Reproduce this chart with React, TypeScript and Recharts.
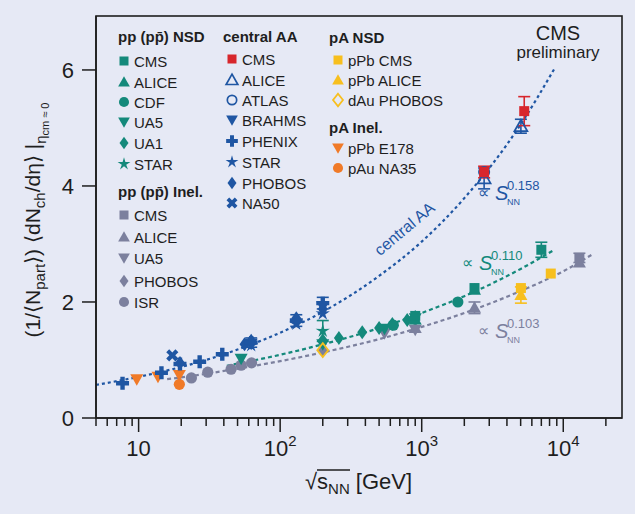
import React from 'react';
import { ComposedChart, Scatter, Line, XAxis, YAxis, ErrorBar } from 'recharts';

const FONT = "'Liberation Sans', Arial, sans-serif";
const NARROW = "'Liberation Sans Narrow', 'Arial Narrow', 'Liberation Sans', Arial, sans-serif";
const BG = '#e6e9f5';
const TEAL = '#14897b';
const BLUE = '#1f56a3';
const RED = '#d7262c';
const GRAY = '#7c809e';
const ORANGE = '#f07a28';
const YELLOW = '#f7bf1e';
const INK = '#1e1e1e';

// ---------- axis ticks ----------
const xMajorTicks = [10, 100, 1000, 10000];
const xTickBase = ['10', '10', '10', '10'];
const xTickSup = ['', '2', '3', '4'];
const xMinorTicks = [5, 6, 7, 8, 9, 20, 30, 40, 50, 60, 70, 80, 90, 200, 300, 400, 500, 600, 700, 800, 900,
  2000, 3000, 4000, 5000, 6000, 7000, 8000, 9000, 20000];
const yTicks = [0, 2, 4, 6];
const yTickLabels = ['0', '2', '4', '6'];

// ---------- pp (pp̄) NSD ----------
const ppNsdCms = [{ x: 900, y: 1.76 }, { x: 2360, y: 2.24 }, { x: 7000, y: 2.9, e: 0.13 }];
const ppNsdAlice = [{ x: 900, y: 1.7 }, { x: 2360, y: 2.21 }];
const ppNsdCdf = [{ x: 630, y: 1.6 }, { x: 1800, y: 2.0 }];
const ppNsdUa5 = [{ x: 53, y: 1.02 }, { x: 200, y: 1.27 }, { x: 546, y: 1.54 }, { x: 900, y: 1.72 }];
const ppNsdUa1 = [{ x: 200, y: 1.34 }, { x: 260, y: 1.38 }, { x: 380, y: 1.48 }, { x: 500, y: 1.55 },
  { x: 620, y: 1.62 }, { x: 790, y: 1.69 }, { x: 900, y: 1.74 }];
const ppNsdStar = [{ x: 200, y: 1.5, e: 0.18 }];

// ---------- pp (pp̄) Inel. ----------
const ppInelCms = [{ x: 13000, y: 2.76, e: 0.08 }];
const ppInelAlice = [{ x: 900, y: 1.55 }, { x: 2360, y: 1.9, e: 0.1 }, { x: 13000, y: 2.68 }];
const ppInelUa5 = [{ x: 546, y: 1.46 }, { x: 900, y: 1.52 }];
const ppInelPhobos = [{ x: 200, y: 1.17 }];
const ppInelIsr = [{ x: 23.6, y: 0.69 }, { x: 30.8, y: 0.79 }, { x: 45, y: 0.84 }, { x: 53, y: 0.91 }, { x: 62.8, y: 0.95 }];

// ---------- central AA ----------
const aaCms = [{ x: 2760, y: 4.24, e: 0.1 }, { x: 5300, y: 5.29, e: 0.25 }];
const aaAlice = [{ x: 2760, y: 4.13, e: 0.18 }, { x: 5020, y: 5.03, e: 0.12 }];
const aaAtlas = [{ x: 2760, y: 4.24 }];
const aaBrahms = [{ x: 62.4, y: 1.28 }, { x: 200, y: 1.92 }];
const aaPhenix = [{ x: 7.7, y: 0.6 }, { x: 14.5, y: 0.78 }, { x: 19.6, y: 0.93 }, { x: 27, y: 0.97 },
  { x: 39, y: 1.1 }, { x: 62.4, y: 1.3, e: 0.08 }, { x: 130, y: 1.68, e: 0.1 }, { x: 200, y: 1.98, e: 0.1 }];
const aaStar = [{ x: 62.4, y: 1.25 }, { x: 130, y: 1.62 }, { x: 200, y: 1.8 }];
const aaPhobos = [{ x: 19.6, y: 0.95 }, { x: 56, y: 1.27 }, { x: 62.4, y: 1.33 }, { x: 130, y: 1.72 }, { x: 200, y: 1.88 }];
const aaNa50 = [{ x: 17.3, y: 1.08 }];

// ---------- pA NSD ----------
const paPbCms = [{ x: 5020, y: 2.24 }, { x: 8160, y: 2.49 }];
const paPbAlice = [{ x: 5020, y: 2.12, e: 0.14 }];
const dAuPhobos = [{ x: 200, y: 1.17 }];

// ---------- pA Inel. ----------
const pPbE178 = [{ x: 9.7, y: 0.67 }, { x: 13.7, y: 0.71 }, { x: 19.4, y: 0.74 }];
const pAuNa35 = [{ x: 19.4, y: 0.58 }];

// ---------- fit curves ----------
const fitAA = [{ x: 5, y: 0.57 }, { x: 10, y: 0.71 }, { x: 20, y: 0.88 }, { x: 50, y: 1.18 }, { x: 100, y: 1.47 },
  { x: 200, y: 1.83 }, { x: 500, y: 2.45 }, { x: 1000, y: 3.04 }, { x: 2000, y: 3.79 }, { x: 5000, y: 5.06 }, { x: 8700, y: 6.03 }];
const fitPPNsd = [{ x: 42, y: 0.9 }, { x: 100, y: 1.09 }, { x: 200, y: 1.27 }, { x: 500, y: 1.55 },
  { x: 1000, y: 1.81 }, { x: 2000, y: 2.1 }, { x: 5000, y: 2.57 }, { x: 8650, y: 2.9 }];
const fitPPInel = [{ x: 15.9, y: 0.67 }, { x: 20, y: 0.7 }, { x: 50, y: 0.85 }, { x: 100, y: 0.98 }, { x: 200, y: 1.13 },
  { x: 500, y: 1.36 }, { x: 1000, y: 1.57 }, { x: 2000, y: 1.81 }, { x: 5000, y: 2.19 }, { x: 10000, y: 2.53 }, { x: 15800, y: 2.81 }];

type Kind = 'square' | 'triUp' | 'triDown' | 'circle' | 'diamond' | 'star' | 'plus' | 'xcross' | 'openTri' | 'openCircle' | 'openDiamond';

type Series = { id: string; group: string; label: string; kind: Kind; color: string; data: any[] };

const SERIES: Series[] = [
  { id: 'ppNsdCms', group: 'ppNSD', label: 'CMS', kind: 'square', color: TEAL, data: ppNsdCms },
  { id: 'ppNsdAlice', group: 'ppNSD', label: 'ALICE', kind: 'triUp', color: TEAL, data: ppNsdAlice },
  { id: 'ppNsdCdf', group: 'ppNSD', label: 'CDF', kind: 'circle', color: TEAL, data: ppNsdCdf },
  { id: 'ppNsdUa5', group: 'ppNSD', label: 'UA5', kind: 'triDown', color: TEAL, data: ppNsdUa5 },
  { id: 'ppNsdUa1', group: 'ppNSD', label: 'UA1', kind: 'diamond', color: TEAL, data: ppNsdUa1 },
  { id: 'ppNsdStar', group: 'ppNSD', label: 'STAR', kind: 'star', color: TEAL, data: ppNsdStar },
  { id: 'ppInelCms', group: 'ppInel', label: 'CMS', kind: 'square', color: GRAY, data: ppInelCms },
  { id: 'ppInelAlice', group: 'ppInel', label: 'ALICE', kind: 'triUp', color: GRAY, data: ppInelAlice },
  { id: 'ppInelUa5', group: 'ppInel', label: 'UA5', kind: 'triDown', color: GRAY, data: ppInelUa5 },
  { id: 'ppInelPhobos', group: 'ppInel', label: 'PHOBOS', kind: 'diamond', color: GRAY, data: ppInelPhobos },
  { id: 'ppInelIsr', group: 'ppInel', label: 'ISR', kind: 'circle', color: GRAY, data: ppInelIsr },
  { id: 'aaCms', group: 'AA', label: 'CMS', kind: 'square', color: RED, data: aaCms },
  { id: 'aaAlice', group: 'AA', label: 'ALICE', kind: 'openTri', color: BLUE, data: aaAlice },
  { id: 'aaAtlas', group: 'AA', label: 'ATLAS', kind: 'openCircle', color: BLUE, data: aaAtlas },
  { id: 'aaBrahms', group: 'AA', label: 'BRAHMS', kind: 'triDown', color: BLUE, data: aaBrahms },
  { id: 'aaPhenix', group: 'AA', label: 'PHENIX', kind: 'plus', color: BLUE, data: aaPhenix },
  { id: 'aaStar', group: 'AA', label: 'STAR', kind: 'star', color: BLUE, data: aaStar },
  { id: 'aaPhobos', group: 'AA', label: 'PHOBOS', kind: 'diamond', color: BLUE, data: aaPhobos },
  { id: 'aaNa50', group: 'AA', label: 'NA50', kind: 'xcross', color: BLUE, data: aaNa50 },
  { id: 'paPbCms', group: 'pANSD', label: 'pPb CMS', kind: 'square', color: YELLOW, data: paPbCms },
  { id: 'paPbAlice', group: 'pANSD', label: 'pPb ALICE', kind: 'triUp', color: YELLOW, data: paPbAlice },
  { id: 'dAuPhobos', group: 'pANSD', label: 'dAu PHOBOS', kind: 'openDiamond', color: YELLOW, data: dAuPhobos },
  { id: 'pPbE178', group: 'pAInel', label: 'pPb E178', kind: 'triDown', color: ORANGE, data: pPbE178 },
  { id: 'pAuNa35', group: 'pAInel', label: 'pAu NA35', kind: 'circle', color: ORANGE, data: pAuNa35 },
];

const DRAW_ORDER = ['ppInelIsr', 'ppInelUa5', 'ppInelAlice', 'ppInelCms', 'ppInelPhobos',
  'ppNsdUa5', 'ppNsdUa1', 'ppNsdCdf', 'ppNsdAlice', 'ppNsdCms', 'ppNsdStar',
  'pPbE178', 'pAuNa35', 'paPbAlice', 'paPbCms', 'dAuPhobos',
  'aaPhobos', 'aaStar', 'aaBrahms', 'aaPhenix', 'aaNa50', 'aaAlice', 'aaAtlas', 'aaCms'];

const pts = (cx: number, cy: number, arr: number[][], k: number) =>
  arr.map(([dx, dy]) => `${cx + dx * k},${cy + dy * k}`).join(' ');

function starPts(cx: number, cy: number, ro: number, ri: number) {
  const out: string[] = [];
  for (let i = 0; i < 10; i++) {
    const r = i % 2 === 0 ? ro : ri;
    const a = -Math.PI / 2 + (i * Math.PI) / 5;
    out.push(`${cx + r * Math.cos(a)},${cy + r * Math.sin(a)}`);
  }
  return out.join(' ');
}

function Marker({ cx, cy, kind, color, k = 1 }: { cx: number; cy: number; kind: Kind; color: string; k?: number }) {
  if (cx == null || cy == null || isNaN(cx) || isNaN(cy)) return null;
  switch (kind) {
    case 'square':
      return <rect x={cx - 5 * k} y={cy - 5 * k} width={10 * k} height={10 * k} fill={color} />;
    case 'triUp':
      return <polygon points={pts(cx, cy, [[0, -6.5], [6.5, 5], [-6.5, 5]], k)} fill={color} />;
    case 'triDown':
      return <polygon points={pts(cx, cy, [[0, 6.5], [6.5, -5], [-6.5, -5]], k)} fill={color} />;
    case 'circle':
      return <circle cx={cx} cy={cy} r={5.6 * k} fill={color} />;
    case 'diamond':
      return <polygon points={pts(cx, cy, [[0, -7], [5, 0], [0, 7], [-5, 0]], k)} fill={color} />;
    case 'star':
      return <polygon points={starPts(cx, cy, 7.5 * k, 2.6 * k)} fill={color} />;
    case 'plus':
      return (
        <path
          d={`M${cx - 2.2 * k},${cy - 6.5 * k}h${4.4 * k}v${4.3 * k}h${4.3 * k}v${4.4 * k}h${-4.3 * k}v${4.3 * k}h${-4.4 * k}v${-4.3 * k}h${-4.3 * k}v${-4.4 * k}h${4.3 * k}z`}
          fill={color}
        />
      );
    case 'xcross':
      return (
        <g transform={`rotate(45 ${cx} ${cy})`}>
          <path
            d={`M${cx - 2.1 * k},${cy - 6.5 * k}h${4.2 * k}v${4.4 * k}h${4.4 * k}v${4.2 * k}h${-4.4 * k}v${4.4 * k}h${-4.2 * k}v${-4.4 * k}h${-4.4 * k}v${-4.2 * k}h${4.4 * k}z`}
            fill={color}
          />
        </g>
      );
    case 'openTri':
      return <polygon points={pts(cx, cy, [[0, -6.5], [6.5, 5], [-6.5, 5]], k)} fill="none" stroke={color} strokeWidth={1.7} />;
    case 'openCircle':
      return <circle cx={cx} cy={cy} r={5.2 * k} fill="none" stroke={color} strokeWidth={1.7} />;
    case 'openDiamond':
      return <polygon points={pts(cx, cy, [[0, -7], [5.5, 0], [0, 7], [-5.5, 0]], k)} fill="none" stroke={color} strokeWidth={1.8} />;
  }
  return null;
}

const XTick = (props: any) => {
  const { x, y, payload } = props;
  const v = payload.value;
  const idx = xMajorTicks.indexOf(v);
  const major = idx >= 0;
  return (
    <g>
      <line x1={x} x2={x} y1={y} y2={y + (major ? 14 : 8)} stroke={INK} strokeWidth={1.5} />
      {major && (
        <text x={x} y={y + 38} textAnchor="middle" fontSize={22} fill={INK} fontFamily={FONT}>
          {xTickBase[idx]}
          {xTickSup[idx] && <tspan dy={-10} fontSize={15}>{xTickSup[idx]}</tspan>}
        </text>
      )}
    </g>
  );
};

const YTick = (props: any) => {
  const { x, y, payload } = props;
  const idx = yTicks.indexOf(payload.value);
  return (
    <g>
      <line x1={x - 14} x2={x} y1={y} y2={y} stroke={INK} strokeWidth={1.5} />
      <text x={x - 22} y={y + 8} textAnchor="end" fontSize={22} fill={INK} fontFamily={FONT}>
        {yTickLabels[idx]}
      </text>
    </g>
  );
};

// legend layout
const LEGEND = [
  { group: 'ppNSD', title: 'pp (pp\u0304) NSD', tx: 118, ty: 42, mx: 124, lx: 134, rows: [61, 82, 102, 122, 143, 164] },
  { group: 'ppInel', title: 'pp (pp\u0304) Inel.', tx: 118, ty: 197, mx: 124, lx: 134, rows: [215, 237, 258, 281, 302] },
  { group: 'AA', title: 'central AA', tx: 223, ty: 42, mx: 232, lx: 242, rows: [59, 80, 100, 120, 141, 162, 183, 203] },
  { group: 'pANSD', title: 'pA NSD', tx: 329, ty: 43, mx: 338, lx: 348, rows: [60, 80, 100] },
  { group: 'pAInel', title: 'pA Inel.', tx: 329, ty: 133, mx: 338, lx: 348, rows: [148, 168] },
];

// power-law annotations
const POWER_LABELS = [
  { exp: '0.158', color: BLUE, x: 478, y: 198 },
  { exp: '0.110', color: TEAL, x: 462, y: 268 },
  { exp: '0.103', color: GRAY, x: 478, y: 336 },
];

function PowerLabel({ exp, color, x, y }: { exp: string; color: string; x: number; y: number }) {
  return (
    <g>
      <text x={x} y={y} fontSize={16} fill={color} fontFamily={FONT}>∝</text>
      <text x={x + 17} y={y + 2} fontSize={20} fontStyle="italic" fill={color} fontFamily={FONT}>S</text>
      <text x={x + 29} y={y + 7} fontSize={9} fill={color} fontFamily={FONT}>NN</text>
      <text x={x + 29} y={y - 8} fontSize={13} fill={color} fontFamily={FONT}>{exp}</text>
    </g>
  );
}

function Overlay() {
  return (
    <svg width={635} height={514} style={{ position: 'absolute', left: 0, top: 0, pointerEvents: 'none' }}>
      <rect x={96} y={16} width={526} height={402} fill="none" stroke={INK} strokeWidth={1.6} />
      {LEGEND.map((g) => {
        const items = SERIES.filter((s) => s.group === g.group);
        return (
          <g key={g.group}>
            <text x={g.tx} y={g.ty} fontSize={15} fontWeight="bold" fill={INK} fontFamily={NARROW}>{g.title}</text>
            {items.map((s, i) => (
              <g key={s.id}>
                <Marker cx={g.mx} cy={g.rows[i]} kind={s.kind} color={s.color} k={0.9} />
                <text x={g.lx} y={g.rows[i] + 5.5} fontSize={15} fill={INK} fontFamily={NARROW}>{s.label}</text>
              </g>
            ))}
          </g>
        );
      })}
      <text x={558} y={40} textAnchor="middle" fontSize={20} fill={INK} fontFamily={FONT}>CMS</text>
      <text x={558} y={58} textAnchor="middle" fontSize={17} fill={INK} fontFamily={FONT}>preliminary</text>

      <text x={0} y={0} transform="translate(408 233) rotate(-40)" textAnchor="middle" fontSize={16} fill={BLUE} fontFamily={FONT}>central AA</text>

      {POWER_LABELS.map((p) => (
        <PowerLabel key={p.exp} {...p} />
      ))}

      {/* x axis title */}
      <text x={305} y={489} fontSize={22} fill={INK} fontFamily={FONT}>
        √s<tspan dy={5} fontSize={15}>NN</tspan><tspan dy={-5}> [GeV]</tspan>
      </text>
      <line x1={317} x2={350} y1={470} y2={470} stroke={INK} strokeWidth={1.3} />

      {/* y axis title */}
      <text transform="translate(40 220) rotate(-90)" textAnchor="middle" fontSize={21} fill={INK} fontFamily={FONT}>
        (1/⟨N<tspan dy={5} fontSize={15}>part</tspan><tspan dy={-5}>⟩) ⟨dN</tspan><tspan dy={5} fontSize={15}>ch</tspan>
        <tspan dy={-5}>/dη⟩ |</tspan><tspan dy={6} fontSize={15}>η</tspan><tspan dy={3} fontSize={11}>cm ≈ 0</tspan>
      </text>
    </svg>
  );
}

export default function App() {
  const xTicks = [...xMajorTicks, ...xMinorTicks].sort((a, b) => a - b);
  const byId: Record<string, Series> = {};
  SERIES.forEach((s) => (byId[s.id] = s));
  return (
    <div style={{ position: 'absolute', left: 0, top: 0, width: 635, height: 514, background: BG, fontFamily: FONT }}>
      <ComposedChart width={635} height={514} margin={{ top: 16, right: 13, left: 0, bottom: 0 }}>
        <XAxis
          dataKey="x"
          type="number"
          scale="log"
          domain={[5, 26000]}
          allowDataOverflow
          ticks={xTicks}
          interval={0}
          tick={(p: any) => <XTick {...p} />}
          tickSize={0}
          tickMargin={0}
          tickLine={false}
          axisLine={{ stroke: INK, strokeWidth: 1.6 }}
          height={96}
        />
        <YAxis
          dataKey="y"
          type="number"
          domain={[0, 6.93]}
          allowDataOverflow
          ticks={yTicks}
          interval={0}
          tick={(p: any) => <YTick {...p} />}
          tickSize={0}
          tickMargin={0}
          tickLine={false}
          axisLine={{ stroke: INK, strokeWidth: 1.6 }}
          width={96}
        />
        <Line data={fitPPInel} dataKey="y" type="monotone" stroke={GRAY} strokeWidth={2.2} strokeDasharray="4 3" dot={false} isAnimationActive={false} />
        <Line data={fitPPNsd} dataKey="y" type="monotone" stroke={TEAL} strokeWidth={2.2} strokeDasharray="4 3" dot={false} isAnimationActive={false} />
        <Line data={fitAA} dataKey="y" type="monotone" stroke={BLUE} strokeWidth={2.2} strokeDasharray="3 3" dot={false} isAnimationActive={false} />
        {DRAW_ORDER.map((id) => {
          const s = byId[id];
          const hasErr = s.data.some((d) => d.e);
          return (
            <Scatter
              key={id}
              data={s.data}
              isAnimationActive={false}
              shape={(p: any) => <Marker cx={p.cx} cy={p.cy} kind={s.kind} color={s.color} />}
            >
              {hasErr && <ErrorBar dataKey="e" direction="y" width={6} stroke={s.color} strokeWidth={1.6} />}
            </Scatter>
          );
        })}
      </ComposedChart>
      <Overlay />
    </div>
  );
}
